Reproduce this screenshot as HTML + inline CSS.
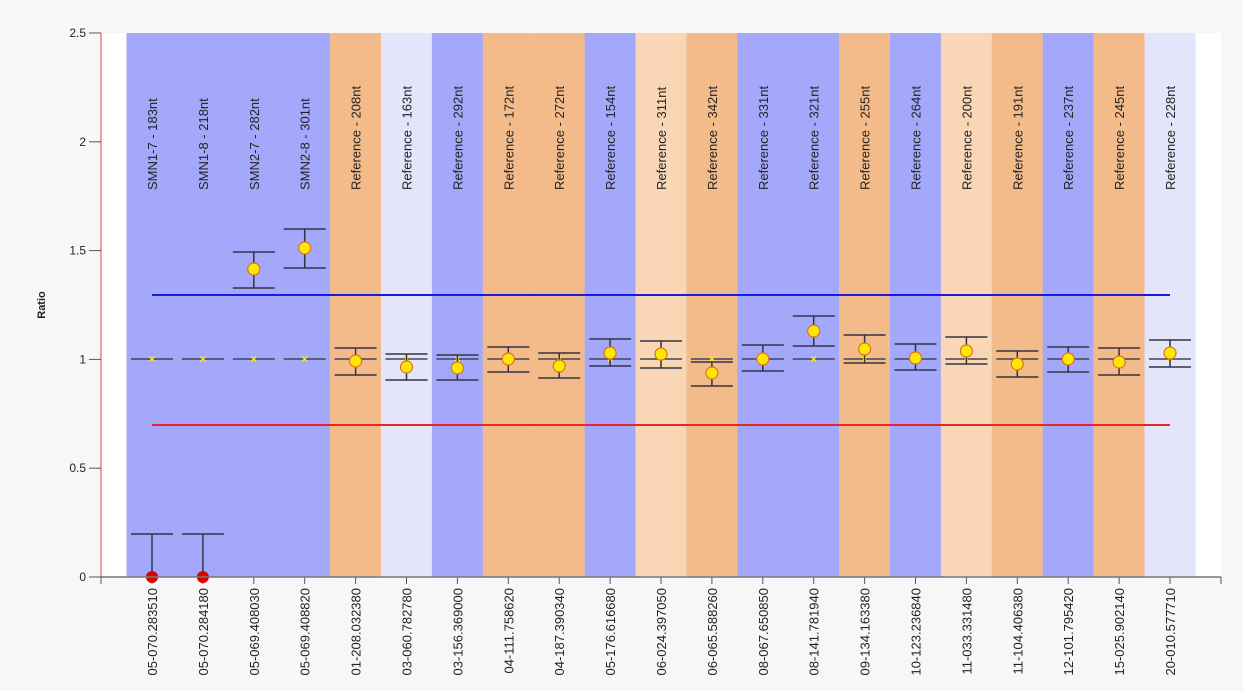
<!DOCTYPE html>
<html><head><meta charset="utf-8"><style>
html,body{margin:0;padding:0;background:#f7f7f7;}
svg{display:block;font-family:"Liberation Sans",sans-serif;}
</style></head><body>
<svg id="c" width="1243" height="691" xmlns="http://www.w3.org/2000/svg"></svg>
<script>
var s=document.getElementById('c'),h='';
var X0=152,DX=50.9;
function Y(v){return 577-v*217.6;}
var B='#a4a8fa',O='#f4bb8a',L='#e4e4fa',P='#f9d6b6';
var bg=[B,B,B,B,O,L,B,O,O,B,P,O,B,B,O,B,P,O,B,O,L];
var toplab=["SMN1-7 - 183nt","SMN1-8 - 218nt","SMN2-7 - 282nt","SMN2-8 - 301nt","Reference - 208nt","Reference - 163nt","Reference - 292nt","Reference - 172nt","Reference - 272nt","Reference - 154nt","Reference - 311nt","Reference - 342nt","Reference - 331nt","Reference - 321nt","Reference - 255nt","Reference - 264nt","Reference - 200nt","Reference - 191nt","Reference - 237nt","Reference - 245nt","Reference - 228nt"];
var bot=["05-070.283510","05-070.284180","05-069.408030","05-069.408820","01-208.032380","03-060.782780","03-156.369000","04-111.758620","04-187.390340","05-176.616680","06-024.397050","06-065.588260","08-067.650850","08-141.781940","09-134.163380","10-123.236840","11-033.331480","11-104.406380","12-101.795420","15-025.902140","20-010.577710"];
var eb=[null,null,[252,269,288],[229,248,268],[348,361,375],[354,367,380],[355,368,380],[347,359,372],[353,366,378],[339,353,366],[341,354,368],[362,373,386],[345,359,371],[316,331,346],[335,349,363],[344,358,370],[337,351,364],[351,364,377],[347,359,372],[348,362,375],[340,353,367]];
h+='<rect x="101" y="33" width="1120" height="544" fill="#fff"/>';
for(var i=0;i<21;i++){var cx=X0+i*DX;h+='<rect x="'+(cx-25.5)+'" y="33" width="'+(DX+0.2)+'" height="544" fill="'+bg[i]+'"/>';}
for(var i=0;i<21;i++){var cx=X0+i*DX;
h+='<text transform="translate('+(cx+5)+',190) rotate(-90)" font-size="13" fill="#222">'+toplab[i]+'</text>';
h+='<text transform="translate('+(cx+5)+',588) rotate(-90)" font-size="13" fill="#222" text-anchor="end">'+bot[i]+'</text>';
h+='<line x1="'+cx+'" y1="577" x2="'+cx+'" y2="584" stroke="#555"/>';
h+='<line x1="'+(cx-21)+'" y1="359" x2="'+(cx+21)+'" y2="359" stroke="#445" stroke-width="1.5"/>';
}
h+='<line x1="152" y1="295" x2="1170" y2="295" stroke="#1a1ae0" stroke-width="2"/>';
h+='<line x1="152" y1="425" x2="1170" y2="425" stroke="#e8262a" stroke-width="2"/>';
for(var i=0;i<21;i++){var cx=X0+i*DX,e=eb[i];
h+='<g stroke="#eeee20" stroke-width="1.5"><line x1="'+(cx-2.5)+'" y1="356.5" x2="'+(cx+2.5)+'" y2="361.5"/><line x1="'+(cx-2.5)+'" y1="361.5" x2="'+(cx+2.5)+'" y2="356.5"/></g>';
if(e){h+='<g stroke="#334" stroke-width="1.5"><line x1="'+(cx-21)+'" y1="'+e[0]+'" x2="'+(cx+21)+'" y2="'+e[0]+'"/><line x1="'+(cx-21)+'" y1="'+e[2]+'" x2="'+(cx+21)+'" y2="'+e[2]+'"/><line x1="'+cx+'" y1="'+e[0]+'" x2="'+cx+'" y2="'+e[2]+'"/></g>';
h+='<circle cx="'+cx+'" cy="'+e[1]+'" r="6" fill="#ffe800" stroke="#e07020" stroke-width="1.2"/>';}
else{h+='<g stroke="#334" stroke-width="1.5"><line x1="'+(cx-21)+'" y1="534" x2="'+(cx+21)+'" y2="534"/><line x1="'+cx+'" y1="534" x2="'+cx+'" y2="577"/></g><circle cx="'+cx+'" cy="577" r="6" fill="#d00"/>';}
}
h+='<line x1="101" y1="577" x2="1221" y2="577" stroke="#777" stroke-width="1.5"/><line x1="1221" y1="577" x2="1221" y2="584" stroke="#555"/><line x1="101" y1="577" x2="101" y2="584" stroke="#555"/>';
h+='<line x1="101" y1="33" x2="101" y2="577" stroke="#d44" stroke-width="1"/>';
var tl=["0","0.5","1","1.5","2","2.5"];
for(var k=0;k<6;k++){var y=Y(k*0.5);h+='<line x1="89" y1="'+y+'" x2="101" y2="'+y+'" stroke="#555"/><text x="86" y="'+(y+4)+'" font-size="12" fill="#222" text-anchor="end">'+tl[k]+'</text>';}
h+='<text x="45" y="305" font-size="11" font-weight="bold" fill="#222" text-anchor="middle" transform="rotate(-90 45 305)">Ratio</text>';
s.innerHTML=h;
</script>
</body></html>
